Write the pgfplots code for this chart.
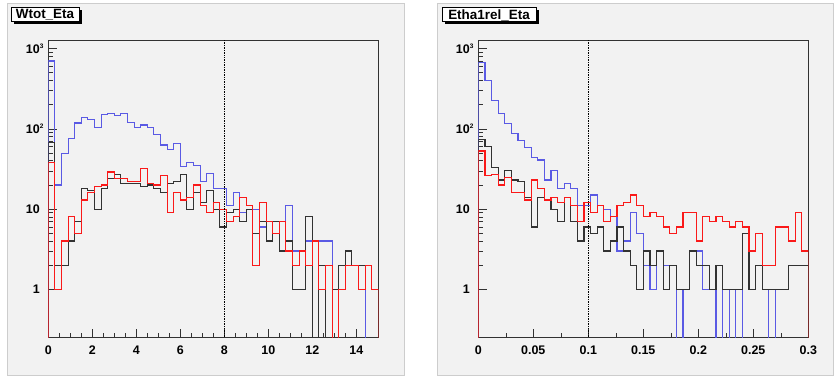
\documentclass[border=0pt]{standalone}
\usepackage{fontspec}
\setmainfont{Liberation Sans}
\usepackage{pgfplots}
\pgfplotsset{compat=1.18}
\usepackage{pgfplotstable}

\definecolor{hblue}{RGB}{90,90,228}
\definecolor{hred}{RGB}{250,25,25}
\definecolor{hblack}{RGB}{50,50,50}
\definecolor{padgray}{RGB}{242,242,242}
\definecolor{padedge}{RGB}{205,205,205}

% bin start, blue, red, black  (0 counts written as 0.1 = below the axis)
\pgfplotstableread{
x b r k
0 0.1 0.1 0.1
0 700 38 67
0.3 20 1 2
0.6 49 4 2
0.9 76 8 4
1.2 118 5 7
1.5 140 13 18
1.8 130 16 17
2.1 105 19 10
2.4 150 20 18
2.7 156 29 24
3.0 146 24 27
3.3 155 24 21
3.6 119 22 21
3.9 105 22 21
4.2 112 32 19
4.5 103 21 20
4.8 85 20 18
5.1 63 26 16
5.4 55 9 21
5.7 66 16 22
6.0 34 13 27
6.3 38 14 10
6.6 35 20 16
6.9 22 11 12
7.2 28 9 17
7.5 18 12 10
7.8 18 10 6
8.1 11 7 9
8.4 16 8 10
8.7 9 14 7
9.0 10 11 10
9.3 10 2 5
9.6 6 12 7
9.9 7 7 4
10.2 7 5 7
10.5 7 7 3
10.8 11 3 4
11.1 3 2 1
11.4 3 3 1
11.7 4 2 8
12.0 4 4 0.1
12.3 4 1 2
12.6 4 2 0.1
12.9 1 0.1 1
13.2 2 1 2
13.5 2 2 3
13.8 2 2 2
14.1 2 1 2
14.4 0.1 2 2
14.7 0.1 1 1
15 0.1 1 1
15 0.1 0.1 0.1
}\lefttab

\pgfplotstableread{
x b r k
0 0.1 0.1 0.1
0 670 53 74
0.006 405 26 60
0.012 225 27 33
0.018 155 20 23
0.024 117 25 30
0.030 88 16 23
0.036 71 16 22
0.042 59 13 14
0.048 44 23 6
0.054 41 18 14
0.060 23 13 13
0.066 30 14 10
0.072 18 12 7
0.078 21 14 14
0.084 18 11 7
0.090 11 7 4
0.096 11 12 6
0.102 15 9 5
0.108 11 11 6
0.114 10 7 3
0.120 8 8 4
0.126 3 11 6
0.132 4 12 3
0.138 9 15 2
0.144 5 11 1
0.150 2 8 3
0.156 1 9 2
0.162 3 8 3
0.168 2 6 1
0.174 2 5 2
0.180 0.1 6 1
0.186 1 9 1
0.192 3 9 3
0.198 3 4 2
0.204 1 8 2
0.210 1 7 1
0.216 0.1 8 2
0.222 1 7 1
0.228 0.1 6 1
0.234 1 7 1
0.240 0.1 6 5
0.246 0.1 3 1
0.252 0.1 5 2
0.258 0.1 2 1
0.264 1 2 1
0.270 0.1 6 1
0.276 0.1 6 1
0.282 0.1 4 2
0.288 0.1 9 2
0.294 0.1 3 2
0.300 0.1 3 2
0.300 0.1 0.1 0.1
}\righttab

\newcommand{\tenp}[1]{10\rlap{\raisebox{4.5bp}{\fontsize{6.5}{6.5}\selectfont\bfseries #1}}}

\begin{document}
\begin{tikzpicture}
\path[use as bounding box, fill=white] (0,0) rectangle (836bp,377bp);
% pads
\filldraw[fill=padgray, draw=padedge, line width=0.8pt] (7bp,2bp) rectangle (404bp,374bp);
\filldraw[fill=padgray, draw=padedge, line width=0.8pt] (437bp,2bp) rectangle (833bp,374bp);

\begin{axis}[at={(48.3bp,39.3bp)}, anchor=south west,
  scale only axis, width=330bp, height=297.7bp,
  ymode=log, ymin=0.25, ymax=1280,
  /pgf/number format/assume math mode=true,
  axis line style={hblack, line width=0.9pt},
  tick pos=left, major tick length=9bp, minor tick length=4.5bp,
  tick style={hblack, line width=0.6pt},
  ytick={1,10,100,1000},
  yticklabels={{1},{10},{\tenp{2}},{\tenp{3}}},
  yticklabel style={font=\bfseries\fontsize{12.5}{12.5}\selectfont, xshift=-5bp},
  xticklabel style={font=\bfseries\fontsize{12.5}{12.5}\selectfont, yshift=-5bp},
  xmin=0, xmax=15, xtick={0,2,4,6,8,10,12,14},
  xticklabels={0,2,4,6,8,10,12,14}, minor x tick num=3]
\addplot[hblue, const plot mark left, no marks, line width=1.2pt] table[x=x, y=b] {\lefttab};
\addplot[hblack, const plot mark left, no marks, line width=1.2pt] table[x=x, y=k] {\lefttab};
\addplot[hred, const plot mark left, no marks, line width=1.2pt] table[x=x, y=r] {\lefttab};
\addplot[black, densely dotted, no marks, line width=0.7pt] coordinates {(8,0.2) (8,2000)};
\end{axis}

\begin{axis}[at={(478.3bp,39.3bp)}, anchor=south west,
  scale only axis, width=330bp, height=297.7bp,
  ymode=log, ymin=0.25, ymax=1280,
  /pgf/number format/assume math mode=true,
  axis line style={hblack, line width=0.9pt},
  tick pos=left, major tick length=9bp, minor tick length=4.5bp,
  tick style={hblack, line width=0.6pt},
  ytick={1,10,100,1000},
  yticklabels={{1},{10},{\tenp{2}},{\tenp{3}}},
  yticklabel style={font=\bfseries\fontsize{12.5}{12.5}\selectfont, xshift=-5bp},
  xticklabel style={font=\bfseries\fontsize{12.5}{12.5}\selectfont, yshift=-5bp},
  xmin=0, xmax=0.3, xtick={0,0.05,0.1,0.15,0.2,0.25,0.3},
  xticklabels={0,0.05,0.1,0.15,0.2,0.25,0.3}, minor x tick num=1]
\addplot[hblue, const plot mark left, no marks, line width=1.2pt] table[x=x, y=b] {\righttab};
\addplot[hblack, const plot mark left, no marks, line width=1.2pt] table[x=x, y=k] {\righttab};
\addplot[hred, const plot mark left, no marks, line width=1.2pt] table[x=x, y=r] {\righttab};
\addplot[black, densely dotted, no marks, line width=0.7pt] coordinates {(0.1,0.2) (0.1,2000)};
\end{axis}

% title boxes
\fill[black] (13.5bp,352.5bp) rectangle (81.5bp,366.5bp);
\filldraw[fill=white, draw=black, line width=1pt] (11bp,355bp) rectangle (79bp,369bp);
\node[font=\bfseries\fontsize{13.5}{13.5}\selectfont, inner sep=0pt] at (45bp,362bp) {Wtot\_Eta};
\fill[black] (444.5bp,352.5bp) rectangle (538.5bp,366.5bp);
\filldraw[fill=white, draw=black, line width=1pt] (442bp,355bp) rectangle (536bp,369bp);
\node[font=\bfseries\fontsize{13.5}{13.5}\selectfont, inner sep=0pt] at (489bp,362bp) {Etha1rel\_Eta};
\end{tikzpicture}
\end{document}
